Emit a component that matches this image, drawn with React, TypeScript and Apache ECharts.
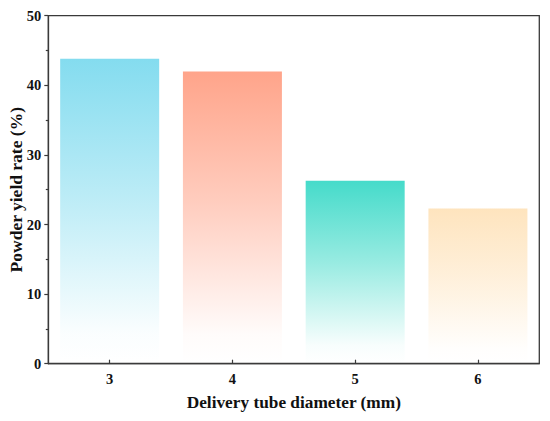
import React, { useEffect, useRef } from "react";
import * as echarts from "echarts";

const categories = ["3", "4", "5", "6"];
const values = [43.8, 42.0, 26.3, 22.3];
const barColors = ["#84DCEF", "#FFA48A", "#45DBCA", "#FEE4BE"];
const yTicks = [0, 10, 20, 30, 40, 50];

const FONT = "'Times New Roman', 'Liberation Serif', serif";

function hexToRgba(hex: string, a: number) {
  const n = parseInt(hex.slice(1), 16);
  return `rgba(${(n >> 16) & 255},${(n >> 8) & 255},${n & 255},${a})`;
}

export default function App() {
  const ref = useRef<HTMLDivElement>(null);
  useEffect(() => {
    if (!ref.current) return;
    const chart = echarts.init(ref.current, undefined, { renderer: "svg" });
    chart.setOption({
      animation: false,
      backgroundColor: "#ffffff",
      grid: {
        left: 48.3,
        right: 10.7,
        top: 15.7,
        bottom: 57.3,
        containLabel: false,
        outerBoundsMode: "none",
        show: true,
        borderColor: "#3a3a3a",
        borderWidth: 1.3,
        backgroundColor: "transparent",
      },
      xAxis: {
        type: "category",
        data: categories,
        name: "Delivery tube diameter (mm)",
        nameLocation: "middle",
        nameGap: 30,
        nameMoveOverlap: false,
        nameTextStyle: { fontFamily: FONT, fontWeight: "bold", fontSize: 17.3, color: "#111" },
        axisLine: { lineStyle: { color: "#3a3a3a", width: 1.3 } },
        axisTick: { show: true, inside: true, alignWithLabel: true, length: 4, lineStyle: { color: "#3a3a3a", width: 1.2 } },
        axisLabel: { fontFamily: FONT, fontWeight: "bold", fontSize: 14.5, color: "#111", margin: 8 },
      },
      yAxis: {
        type: "value",
        min: yTicks[0],
        max: yTicks[yTicks.length - 1],
        interval: 10,
        name: "Powder yield rate (%)",
        nameLocation: "middle",
        nameGap: 23,
        nameMoveOverlap: false,
        nameRotate: 90,
        nameTextStyle: { fontFamily: FONT, fontWeight: "bold", fontSize: 17.5, color: "#111" },
        axisLine: { show: true, lineStyle: { color: "#3a3a3a", width: 1.3 } },
        axisTick: { show: true, inside: false, length: 4, lineStyle: { color: "#3a3a3a", width: 1.2 } },
        minorTick: { show: true, splitNumber: 2, length: 2.5, lineStyle: { color: "#3a3a3a", width: 1.2 } },
        splitLine: { show: false },
        axisLabel: { fontFamily: FONT, fontWeight: "bold", fontSize: 14.5, color: "#111", margin: 7 },
      },
      series: [
        {
          type: "bar",
          barWidth: 99,
          data: values.map((v, i) => ({
            value: v,
            itemStyle: {
              color: new echarts.graphic.LinearGradient(0, 0, 0, 1, [
                { offset: 0, color: hexToRgba(barColors[i], 1) },
                { offset: 0.45, color: hexToRgba(barColors[i], 0.55) },
                { offset: 0.9, color: hexToRgba(barColors[i], 0.04) },
                { offset: 1, color: hexToRgba(barColors[i], 0) },
              ]),
            },
          })),
        },
      ],
    });
    return () => chart.dispose();
  }, []);
  return (
    <div
      ref={ref}
      style={{ position: "fixed", left: 0, top: 0, width: 550, height: 421, background: "#fff" }}
    />
  );
}
